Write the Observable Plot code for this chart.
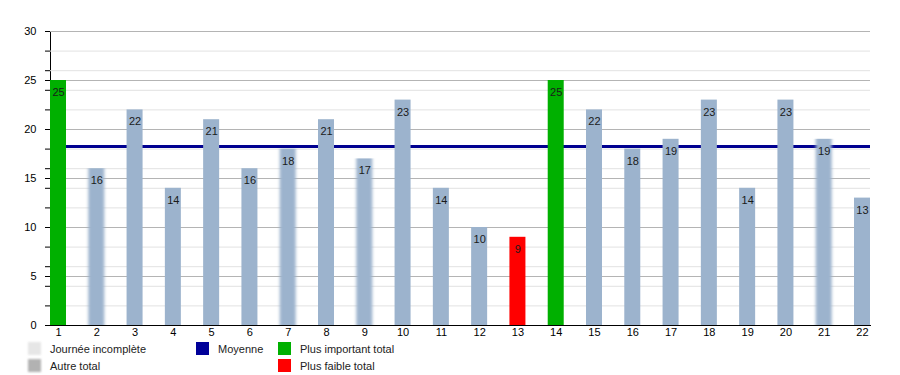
<!DOCTYPE html>
<html>
<head>
<meta charset="utf-8">
<script src="https://cdn.jsdelivr.net/npm/d3@7"></script>
<script src="https://cdn.jsdelivr.net/npm/@observablehq/plot@0.6"></script>
<style>
  body { margin: 0; background: #fff; font-family: "Liberation Sans", Arial, sans-serif; }
  #wrap { position: relative; width: 900px; height: 375px; }
  .legend { position: absolute; font-size: 11px; color: #222; line-height: 13px; }
  .sw { position: absolute; width: 13px; height: 13px; }
  .lt { position: absolute; white-space: nowrap; }
</style>
</head>
<body>
<div id="wrap"></div>
<script>
// Data
const days = ["1","2","3","4","5","6","7","8","9","10","11","12","13","14","15","16","17","18","19","20","21","22"];
const totals = [25,16,22,14,21,16,18,21,17,23,14,10,9,25,22,18,19,23,14,23,19,13];
const incompleteDays = ["2","7","9","21"];
const majorTicks = [5,10,15,20,25,30];
const minorTicks = [2,4,6,8,12,14,16,18,22,24,26,28];
const legendItems = [
  {label: "Journée incomplète", color: "#e6e6e6", blur: true, x: 28, y: 342},
  {label: "Autre total", color: "#b2b2b2", blur: true, x: 28, y: 359},
  {label: "Moyenne", color: "#000099", blur: false, x: 196, y: 342},
  {label: "Plus important total", color: "#00b000", blur: false, x: 278, y: 342},
  {label: "Plus faible total", color: "#ff0000", blur: false, x: 278, y: 359}
];

const data = days.map((d, i) => ({day: d, total: totals[i], incomplete: incompleteDays.includes(d)}));
const mean = d3.mean(totals);
const maxV = d3.max(totals), minV = d3.min(totals);
const barColor = d => d.total === maxV ? "#00b000" : d.total === minV ? "#ff0000" : "#9cb3cd";

const svg = Plot.plot({
  width: 900,
  height: 340,
  marginLeft: 50,
  marginRight: 30,
  marginTop: 31,
  marginBottom: 15,
  style: {fontFamily: "'Liberation Sans', Arial, sans-serif", fontSize: "11px", color: "#000", background: "#fff"},
  x: {type: "band", domain: days, paddingInner: 0.582, paddingOuter: 0, round: false, tickSize: 0, tickPadding: 3, line: true, label: null},
  y: {domain: [0, 30], ticks: [0, ...majorTicks, ...minorTicks], tickSize: 5, tickPadding: 9,
      tickFormat: v => (v % 5 === 0 ? String(v) : ""), line: true, label: null},
  marks: [
    Plot.ruleY(minorTicks, {stroke: "#e2e2e2"}),
    Plot.ruleY(majorTicks, {stroke: "#b4b4b4"}),
    Plot.ruleY([mean], {stroke: "#000090", strokeWidth: 3}),
    Plot.barY(data.filter(d => !d.incomplete), {x: "day", y: "total", fill: barColor}),
    Plot.barY(data.filter(d => d.incomplete), {x: "day", y: "total", fill: barColor}),
    Plot.text(data, {x: "day", y: "total", text: d => String(d.total), dy: 12, fill: "#1a1a1a"})
  ]
});

// horizontal blur for incomplete-day bars
const s = d3.select(svg);
s.append("defs").append("filter").attr("id", "hblur")
  .attr("filterUnits", "userSpaceOnUse")
  .attr("x", 0).attr("y", 0).attr("width", 900).attr("height", 340)
  .append("feGaussianBlur").attr("stdDeviation", "1.6 0.01");
const barGroups = s.selectAll('g[aria-label="bar"]').nodes();
if (barGroups.length > 1) d3.select(barGroups[1]).attr("filter", "url(#hblur)");

const wrap = document.getElementById("wrap");
wrap.appendChild(svg);

const legend = document.createElement("div");
legend.className = "legend";
legend.style.left = "0px"; legend.style.top = "0px";
for (const it of legendItems) {
  const sw = document.createElement("div");
  sw.className = "sw";
  sw.style.left = it.x + "px"; sw.style.top = it.y + "px";
  sw.style.background = it.color;
  if (it.blur) sw.style.filter = "blur(0.8px)";
  legend.appendChild(sw);
  const t = document.createElement("div");
  t.className = "lt";
  t.style.left = (it.x + 22) + "px"; t.style.top = (it.y + 1) + "px";
  t.textContent = it.label;
  legend.appendChild(t);
}
wrap.appendChild(legend);
</script>
</body>
</html>
